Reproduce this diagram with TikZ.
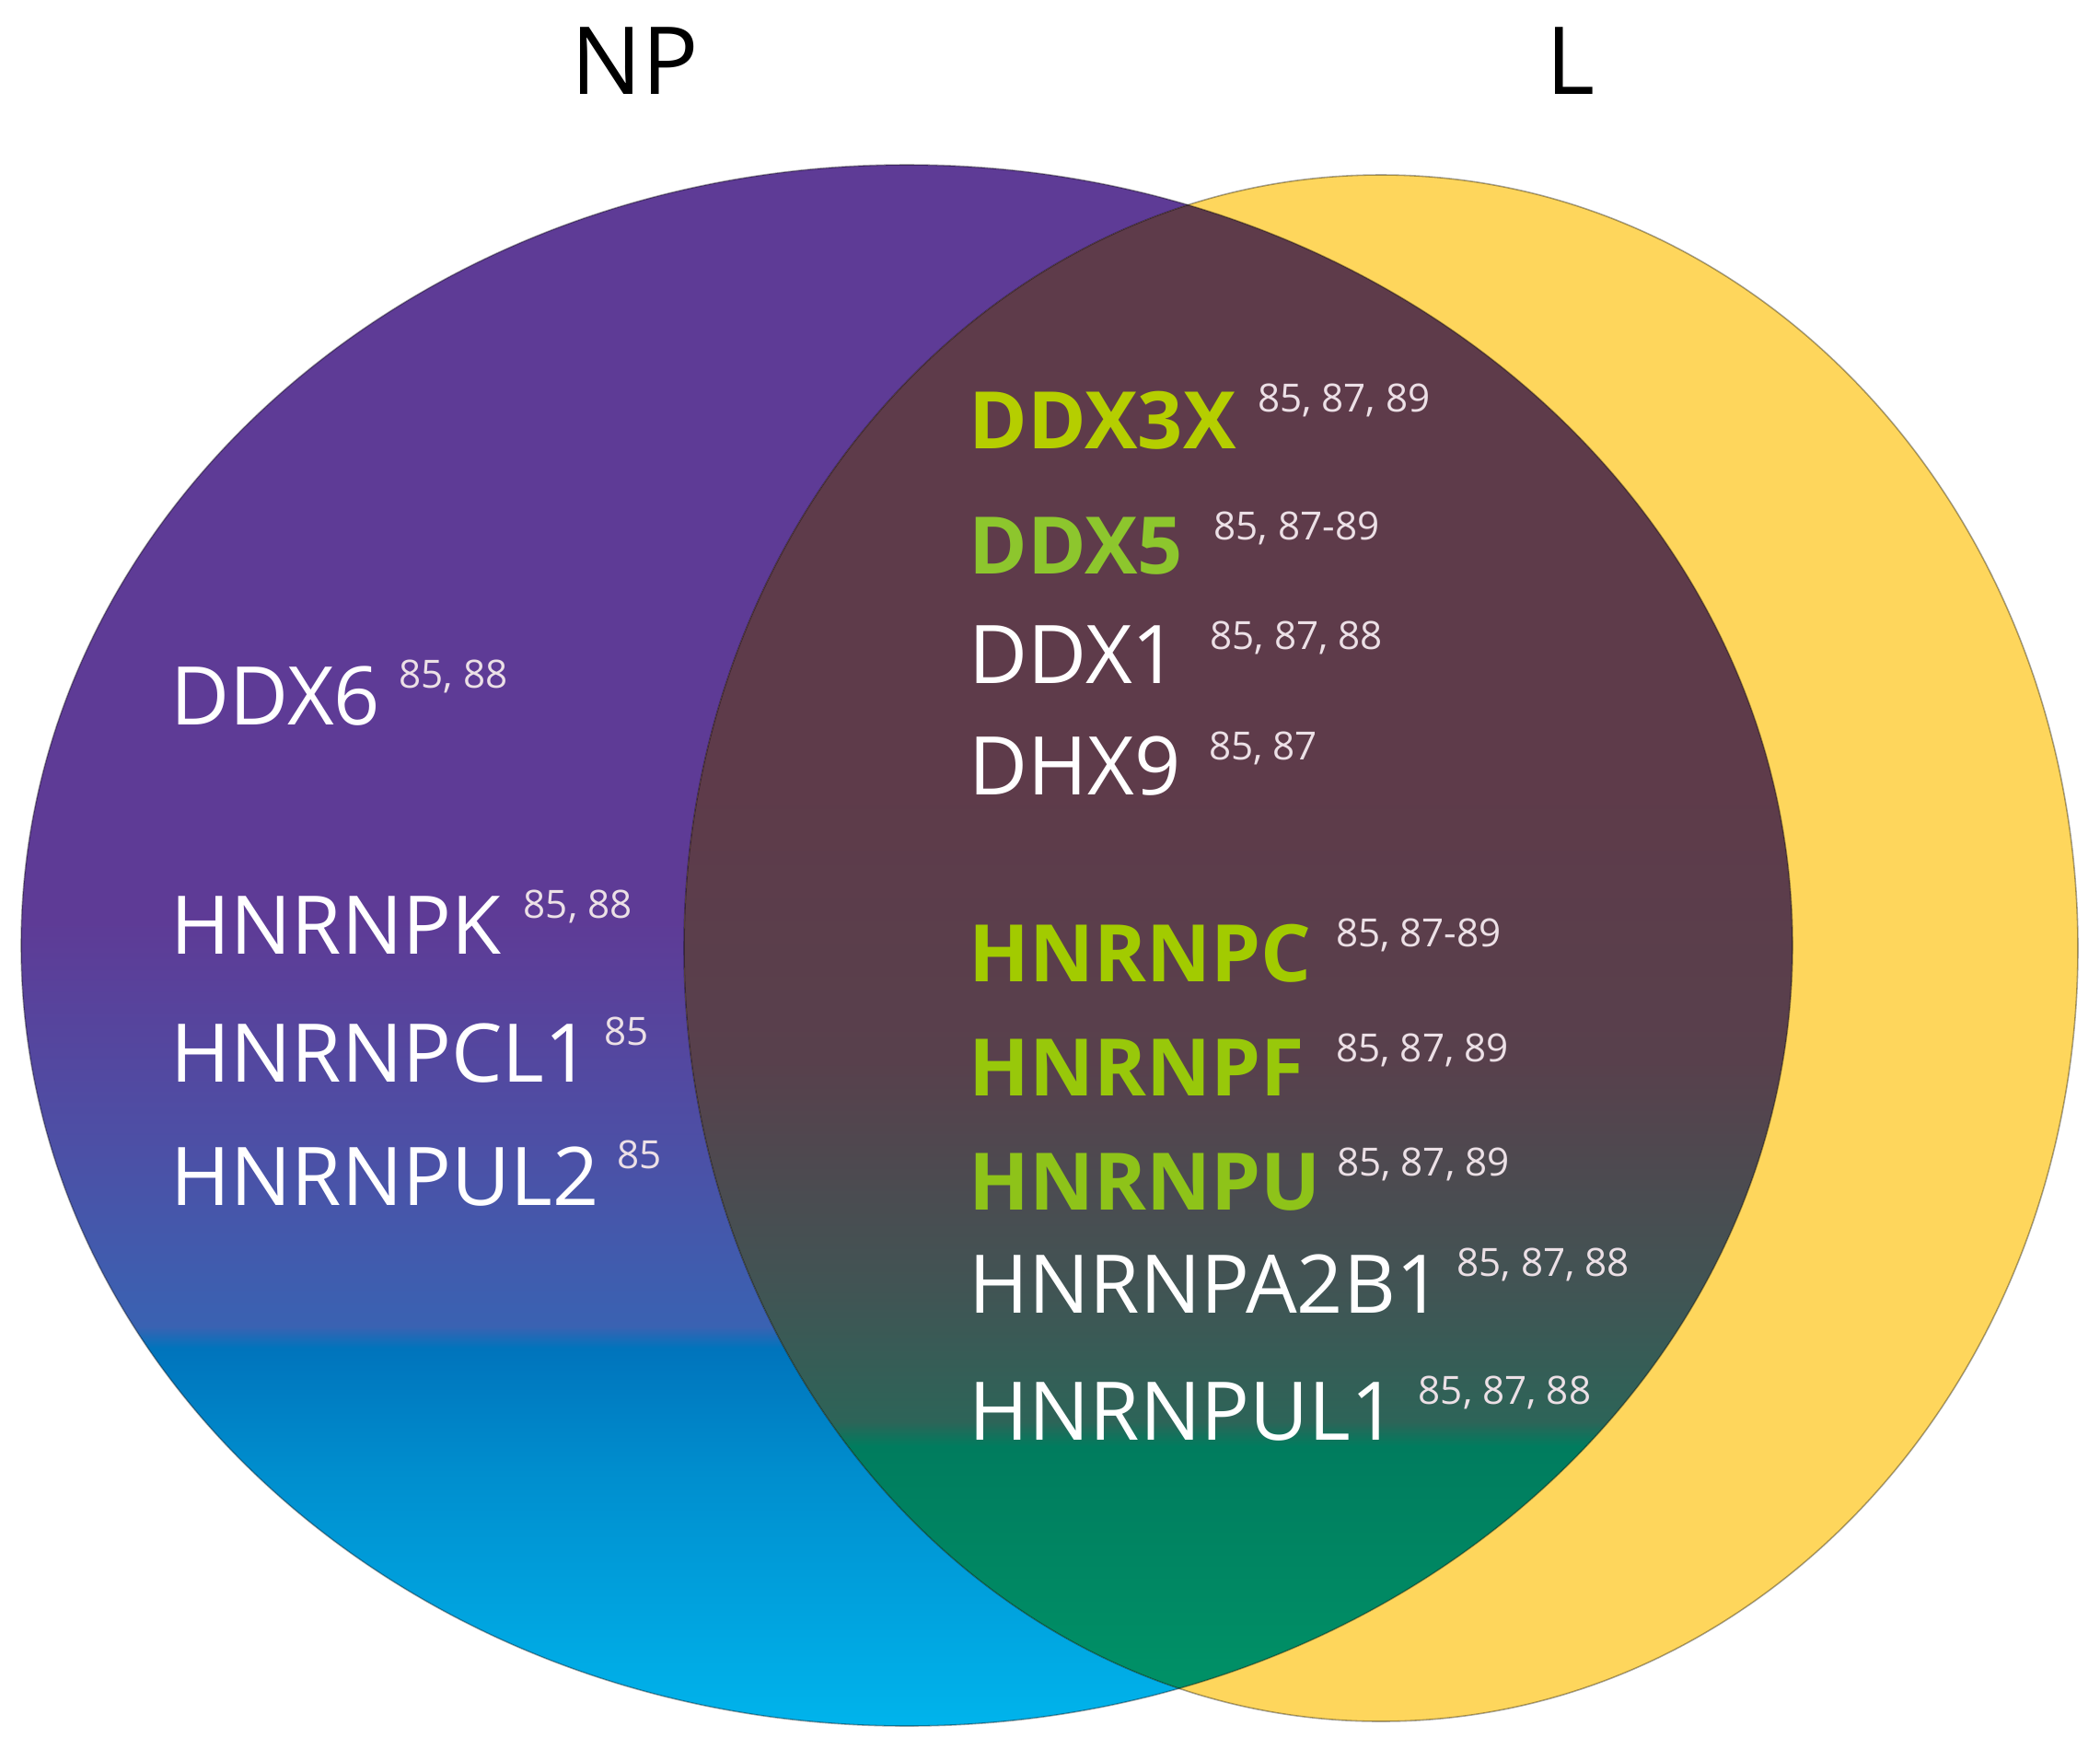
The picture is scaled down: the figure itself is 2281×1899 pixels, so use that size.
\documentclass[tikz,border=0pt]{standalone}
\usepackage{fontspec}
\setmainfont{Open Sans}
\usepackage{tikz}
\usetikzlibrary{positioning}
\definecolor{npviolet}{RGB}{94,59,150}
\definecolor{npdusk}{RGB}{76,80,166}
\definecolor{npindigo}{RGB}{58,98,178}
\definecolor{npblue}{RGB}{0,116,188}
\definecolor{npsky}{RGB}{0,142,206}
\definecolor{npcyan}{RGB}{0,180,236}
\definecolor{lyellow}{RGB}{254,214,92}
\definecolor{ovplum}{RGB}{94,59,74}
\definecolor{ovmauve}{RGB}{88,64,76}
\definecolor{ovslate}{RGB}{65,84,84}
\definecolor{ovteal}{RGB}{45,100,88}
\definecolor{ovgreen}{RGB}{0,124,94}
\definecolor{ovjade}{RGB}{0,148,104}
\definecolor{limeA}{RGB}{181,206,0}
\definecolor{limeB}{RGB}{141,198,45}
\definecolor{limeC}{RGB}{162,203,0}
\definecolor{limeD}{RGB}{152,200,10}
\definecolor{limeE}{RGB}{142,195,25}
\definecolor{refpink}{RGB}{236,224,230}
\pgfdeclareverticalshading{npfade}{100bp}{color(0bp)=(npcyan); color(25bp)=(npcyan);
  color(33.1bp)=(npsky); color(37.1bp)=(npblue); color(37.8bp)=(npindigo);
  color(43.4bp)=(npdusk); color(50.8bp)=(npviolet); color(100bp)=(npviolet)}
\pgfdeclareverticalshading{ovfade}{100bp}{color(0bp)=(ovjade); color(25bp)=(ovjade);
  color(33.9bp)=(ovgreen); color(34.7bp)=(ovteal); color(39bp)=(ovslate);
  color(46.4bp)=(ovmauve); color(55.4bp)=(ovplum); color(100bp)=(ovplum)}
\tikzset{
  gene/.style={text=white, font={\fontsize{25pt}{29pt}\selectfont}, anchor=base west},
  hit/.style={font={\bfseries\fontsize{24.5pt}{29pt}\selectfont}, anchor=base west},
  refs/.style={text=refpink, font={\fontsize{12pt}{14pt}\selectfont}},
  settitle/.style={text=black, font={\fontsize{29pt}{34pt}\selectfont}, anchor=base},
  rim/.style={draw=black, draw opacity=0.35, line width=0.45pt}}

\begin{document}
\begin{tikzpicture}[x=0.01cm, y=-0.01cm]
\tikzstyle{every node}+=[inner sep=0pt]
\useasboundingbox (0,0) rectangle (2281,1899);
\shade[shading=npfade] (985,1027) ellipse [x radius=962, y radius=848];
\fill[lyellow] (1500,1030) ellipse [x radius=757, y radius=840];
\begin{scope}
\clip (985,1027) ellipse [x radius=962, y radius=848];
\shade[shading=ovfade] (1500,1030) ellipse [x radius=757, y radius=840];
\end{scope}
\draw[rim] (985,1027) ellipse [x radius=962, y radius=848];
\draw[rim] (1500,1030) ellipse [x radius=757, y radius=840];
\node[settitle] (np) at (690,102) {NP};
\node[settitle] (l) at (1706,102) {L};
\node[gene] (ddx6) at (185,787) {DDX6};
\node[gene] (hnrnpk) at (185,1036) {HNRNPK};
\node[gene] (hnrnpcl1) at (185,1175) {HNRNPCL1};
\node[gene] (hnrnpul2) at (185,1309) {HNRNPUL2};
\node[hit, text=limeA] (ddx3x) at (1052,487) {DDX3X};
\node[hit, text=limeB] (ddx5) at (1052,623) {DDX5};
\node[gene] (ddx1) at (1052,742) {DDX1};
\node[gene] (dhx9) at (1052,863) {DHX9};
\node[hit, text=limeC] (hnrnpc) at (1052,1066) {HNRNPC};
\node[hit, text=limeD] (hnrnpf) at (1052,1190) {HNRNPF};
\node[hit, text=limeE] (hnrnpu) at (1052,1314) {HNRNPU};
\node[gene] (hnrnpa2b1) at (1052,1426) {HNRNPA2B1};
\node[gene] (hnrnpul1) at (1052,1564) {HNRNPUL1};
\node[refs, right=1.9mm of ddx6.north east, anchor=north west, yshift=0.6mm] (r-ddx6) {85, 88};
\node[refs, right=2.3mm of hnrnpk.north east, anchor=north west, yshift=0.6mm] (r-hnrnpk) {85, 88};
\node[refs, right=1.3mm of hnrnpcl1.north east, anchor=north west, yshift=0.6mm] (r-hnrnpcl1) {85};
\node[refs, right=1.9mm of hnrnpul2.north east, anchor=north west, yshift=0.6mm] (r-hnrnpul2) {85};
\node[refs, right=2.2mm of ddx3x.north east, anchor=north west, yshift=0.8mm] (r-ddx3x) {85, 87, 89};
\node[refs, right=3.2mm of ddx5.north east, anchor=north west, yshift=0.6mm] (r-ddx5) {85, 87-89};
\node[refs, right=3.3mm of ddx1.north east, anchor=north west, yshift=0.4mm] (r-ddx1) {85, 87, 88};
\node[refs, right=2.9mm of dhx9.north east, anchor=north west, yshift=0.4mm] (r-dhx9) {85, 87};
\node[refs, right=2.5mm of hnrnpc.north east, anchor=north west, yshift=0.6mm] (r-hnrnpc) {85, 87-89};
\node[refs, right=3.3mm of hnrnpf.north east, anchor=north west, yshift=0.6mm] (r-hnrnpf) {85, 87, 89};
\node[refs, right=1.6mm of hnrnpu.north east, anchor=north west, yshift=0.6mm] (r-hnrnpu) {85, 87, 89};
\node[refs, right=1.5mm of hnrnpa2b1.north east, anchor=north west, yshift=0.6mm] (r-hnrnpa2b1) {85, 87, 88};
\node[refs, right=2.2mm of hnrnpul1.north east, anchor=north west, yshift=0.6mm] (r-hnrnpul1) {85, 87, 88};
\end{tikzpicture}
\end{document}
